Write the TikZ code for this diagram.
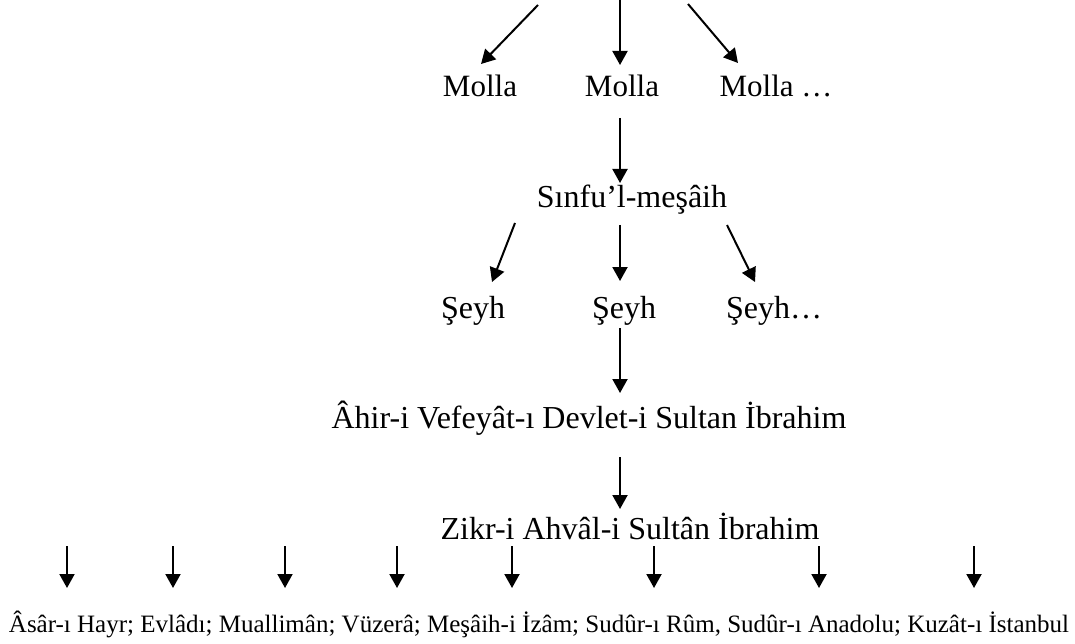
\documentclass[tikz,border=0pt]{standalone}
\usepackage{fontspec}
\setmainfont{Liberation Serif}
\usetikzlibrary{arrows.meta,calc}
\begin{document}
\begin{tikzpicture}[x=1pt,y=-1pt,
  lbl/.style={inner sep=0pt,anchor=base,font=\fontsize{32}{38}\selectfont},
  mol/.style={lbl,font=\fontsize{31}{37}\selectfont},
  small/.style={inner sep=0pt,anchor=base,font=\fontsize{25}{30}\selectfont},
  arr/.style={line width=2pt,-{Triangle[length=14pt,width=15pt]}}]
\useasboundingbox (0,0) rectangle (1075,644);

% text levels
\node[mol] (m1) at (480,97) {Molla};
\node[mol] (m2) at (622,97) {Molla};
\node[mol] (m3) at (776,97) {Molla …};
\node[lbl] (s) at (632,208) {Sınfu’l-meşâih};
\node[lbl] (e1) at (473,318) {Şeyh};
\node[lbl] (e2) at (624,318) {Şeyh};
\node[lbl] (e3) at (774,318) {Şeyh…};
\node[lbl] (a) at (589,428) {Âhir-i Vefeyât-ı Devlet-i Sultan İbrahim};
\node[lbl] (z) at (630,539) {Zikr-i Ahvâl-i Sultân İbrahim};
\node[small] (bt) at (539,632) {Âsâr-ı Hayr; Evlâdı; Muallimân; Vüzerâ; Meşâih-i İzâm; Sudûr-ı Rûm, Sudûr-ı Anadolu; Kuzât-ı İstanbul};

% free starts of the top arrows
\coordinate (t1) at (538,5);
\coordinate (t2) at (620,0);
\coordinate (t3) at (688,4);
\draw[arr] (t1) -- ($(m1.base)+(1,-33)$);
\draw[arr] (t2) -- ($(m2.base)+(-2,-32)$);
\draw[arr] (t3) -- ($(m3.base)+(-38,-34)$);

\draw[arr] ($(m2.base)+(-2,21)$) -- ($(s.base)+(-12,-25)$);
\draw[arr] ($(s.base)+(-117,15)$) -- ($(e1.base)+(19,-36)$);
\draw[arr] ($(s.base)+(-12,17)$) -- ($(e2.base)+(-4,-37)$);
\draw[arr] ($(s.base)+(95,17)$) -- ($(e3.base)+(-19,-36)$);
\draw[arr] ($(e2.base)+(-4,10)$) -- ($(a.base)+(31,-35)$);
\draw[arr] ($(a.base)+(31,29)$) -- ($(z.base)+(-10,-30)$);

% arrows above the bottom list
\foreach \x [count=\i] in {67,173,285,397,512,654,819,974}{
  \coordinate (b\i) at (\x,546);
  \draw[arr] (b\i) -- ($(bt.base)+(\x-539,-44)$);
}
\end{tikzpicture}
\end{document}
